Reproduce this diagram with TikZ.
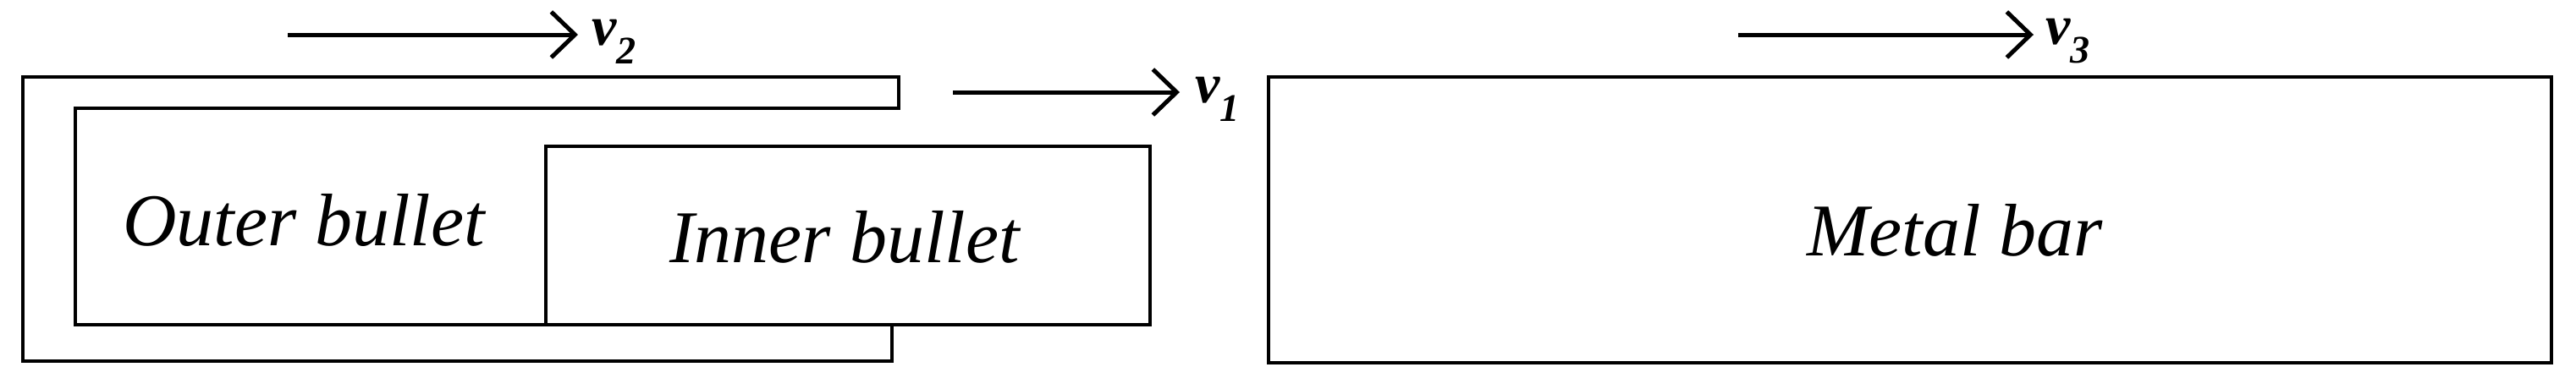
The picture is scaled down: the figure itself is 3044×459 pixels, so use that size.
\documentclass[tikz,border=0pt]{standalone}
\usepackage{fontspec}
\setmainfont{Liberation Serif}
\usetikzlibrary{arrows.meta}
\begin{document}
\begin{tikzpicture}[x=1pt,y=-1pt,
  part/.style={draw, line width=4.5pt, line join=miter, line cap=rect},
  box/.style={draw, line width=4.5pt, inner sep=0pt, outer sep=0pt},
  partname/.style={font=\fontsize{88}{100}\selectfont\itshape, inner sep=0pt},
  vel/.style={line width=5pt, -{Straight Barb[length=28pt, width=54pt]}},
  vlabel/.style={font=\fontsize{66}{72}\selectfont\bfseries\itshape, inner sep=0pt, anchor=west}
]
\useasboundingbox (0,0) rectangle (3044,459);
% outer bullet (C-shaped sleeve)
\draw[part] (1062,128) -- (1062,91) -- (27,91) -- (27,427) -- (1054,427) -- (1054,384);
\draw[part] (1062,91) -- (1062,128) -- (89,128) -- (89,384) -- (645,384);
\node[partname] (outer) at (359,260) {Outer bullet};
% inner bullet
\node[box, minimum width=714pt, minimum height=211pt] (inner) at (1002,278.5) {};
\node[partname] (innertext) at (998,280) {Inner bullet};
% metal bar
\node[box, minimum width=1516pt, minimum height=338pt] (bar) at (2257,260) {};
\node[partname] (bartext) at (2310,272) {Metal bar};
% velocity arrows
\coordinate (a2s) at (340,41);  \coordinate (a2e) at (683,41);
\coordinate (a1s) at (1126,109); \coordinate (a1e) at (1394,109);
\coordinate (a3s) at (2054,41); \coordinate (a3e) at (2403,41);
\draw[vel] (a2s) -- (a2e);
\draw[vel] (a1s) -- (a1e);
\draw[vel] (a3s) -- (a3e);
\node[vlabel] (v2) at ([xshift=16pt,yshift=-8pt]a2e) {v\textsubscript{2}};
\node[vlabel] (v1) at ([xshift=18pt,yshift=-8pt]a1e) {v\textsubscript{1}};
\node[vlabel] (v3) at ([xshift=14pt,yshift=-8pt]a3e) {v\textsubscript{3}};
\end{tikzpicture}
\end{document}
